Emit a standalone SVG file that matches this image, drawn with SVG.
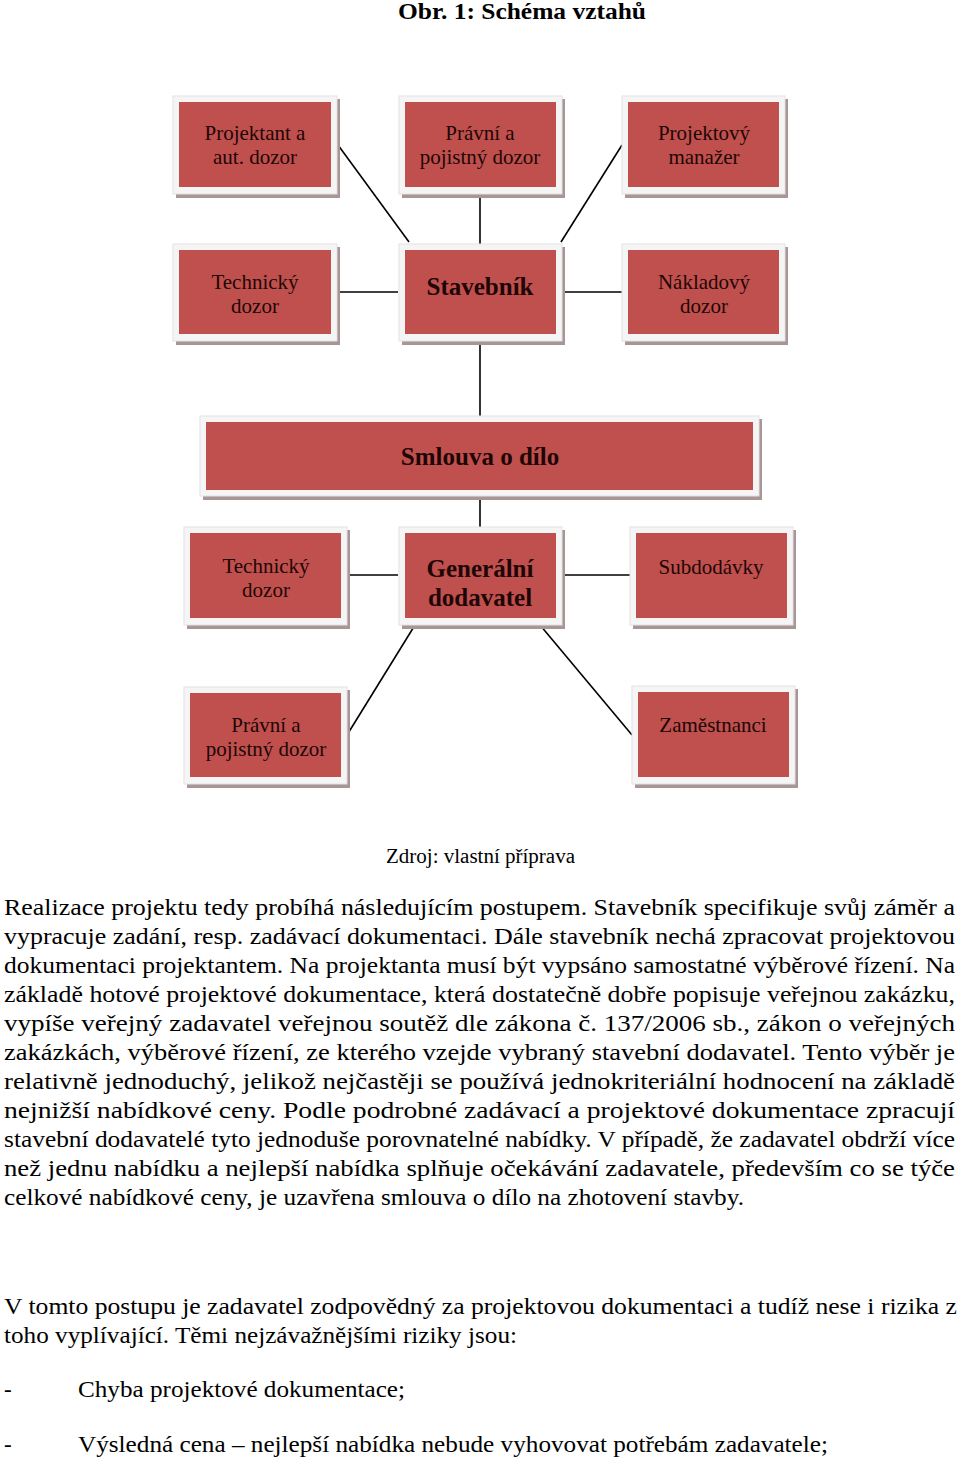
<svg xmlns="http://www.w3.org/2000/svg" width="960" height="1460" viewBox="0 0 960 1460">
<style>
.sh{fill:#a89696}
.fr{fill:#f6f5f5;stroke:#e4e2e2;stroke-width:1}
.rd{fill:#c0504d}
.bt{font-family:"Liberation Serif","Times New Roman",serif;font-size:21px;fill:#1e0606;text-anchor:middle}
.bb{font-family:"Liberation Serif","Times New Roman",serif;font-size:25px;font-weight:bold;fill:#1e0606;text-anchor:middle}
.tx{font-family:"Liberation Serif","Times New Roman",serif;font-size:23px;fill:#000}
.ln{stroke:#000;stroke-width:1.6;fill:none}
</style>
<rect width="960" height="1460" fill="#fff"/>
<text x="522" y="19" font-family="Liberation Serif, serif" font-size="24" font-weight="bold" text-anchor="middle" textLength="248" lengthAdjust="spacingAndGlyphs">Obr. 1: Schéma vztahů</text>

<g id="connectors" class="ln">
<line x1="338" y1="145" x2="409" y2="242"/>
<line x1="480" y1="194" x2="480" y2="244"/>
<line x1="622" y1="145" x2="561" y2="242"/>
<line x1="337" y1="292" x2="398" y2="292"/>
<line x1="562" y1="292" x2="622" y2="292"/>
<line x1="480" y1="341" x2="480" y2="416"/>
<line x1="480" y1="497" x2="480" y2="527"/>
<line x1="347" y1="575" x2="398" y2="575"/>
<line x1="563" y1="575" x2="630" y2="575"/>
<line x1="415" y1="625" x2="347" y2="735"/>
<line x1="540" y1="625" x2="632" y2="735"/>
</g>

<g id="projektant">
<rect class="sh" x="176" y="99" width="164" height="99"/>
<rect class="fr" x="173" y="96" width="164" height="98"/>
<rect class="rd" x="179" y="102" width="152" height="85"/>
<text class="bt" x="255" y="140">Projektant a</text>
<text class="bt" x="255" y="164">aut. dozor</text>
</g>
<g id="pravni-top">
<rect class="sh" x="402" y="99" width="163" height="99"/>
<rect class="fr" x="399" y="96" width="163" height="98"/>
<rect class="rd" x="405" y="102" width="151" height="85"/>
<text class="bt" x="480" y="140">Právní a</text>
<text class="bt" x="480" y="164">pojistný dozor</text>
</g>
<g id="projektovy">
<rect class="sh" x="625" y="99" width="163" height="99"/>
<rect class="fr" x="622" y="96" width="163" height="98"/>
<rect class="rd" x="628" y="102" width="151" height="85"/>
<text class="bt" x="704" y="140">Projektový</text>
<text class="bt" x="704" y="164">manažer</text>
</g>
<g id="technicky-top">
<rect class="sh" x="176" y="247" width="164" height="98"/>
<rect class="fr" x="173" y="244" width="164" height="97"/>
<rect class="rd" x="179" y="250" width="152" height="84"/>
<text class="bt" x="255" y="289">Technický</text>
<text class="bt" x="255" y="313">dozor</text>
</g>
<g id="stavebnik">
<rect class="sh" x="402" y="247" width="163" height="98"/>
<rect class="fr" x="399" y="244" width="163" height="97"/>
<rect class="rd" x="405" y="250" width="151" height="84"/>
<text class="bb" x="480" y="295">Stavebník</text>
</g>
<g id="nakladovy">
<rect class="sh" x="625" y="247" width="163" height="98"/>
<rect class="fr" x="622" y="244" width="163" height="97"/>
<rect class="rd" x="628" y="250" width="151" height="84"/>
<text class="bt" x="704" y="289">Nákladový</text>
<text class="bt" x="704" y="313">dozor</text>
</g>
<g id="smlouva">
<rect class="sh" x="203" y="419" width="559" height="81"/>
<rect class="fr" x="200" y="416" width="559" height="80"/>
<rect class="rd" x="206" y="422" width="547" height="68"/>
<text class="bb" x="480" y="465">Smlouva o dílo</text>
</g>
<g id="technicky-bottom">
<rect class="sh" x="187" y="530" width="163" height="99"/>
<rect class="fr" x="184" y="527" width="163" height="98"/>
<rect class="rd" x="190" y="533" width="151" height="85"/>
<text class="bt" x="266" y="573">Technický</text>
<text class="bt" x="266" y="597">dozor</text>
</g>
<g id="generalni">
<rect class="sh" x="402" y="530" width="163" height="99"/>
<rect class="fr" x="399" y="527" width="163" height="98"/>
<rect class="rd" x="405" y="533" width="151" height="85"/>
<text class="bb" x="480" y="577">Generální</text>
<text class="bb" x="480" y="606">dodavatel</text>
</g>
<g id="subdodavky">
<rect class="sh" x="633" y="530" width="163" height="99"/>
<rect class="fr" x="630" y="527" width="163" height="98"/>
<rect class="rd" x="636" y="533" width="151" height="85"/>
<text class="bt" x="711" y="574">Subdodávky</text>
</g>
<g id="pravni-bottom">
<rect class="sh" x="187" y="690" width="163" height="98"/>
<rect class="fr" x="184" y="687" width="163" height="97"/>
<rect class="rd" x="190" y="693" width="151" height="84"/>
<text class="bt" x="266" y="732">Právní a</text>
<text class="bt" x="266" y="756">pojistný dozor</text>
</g>
<g id="zamestnanci">
<rect class="sh" x="635" y="689" width="163" height="99"/>
<rect class="fr" x="632" y="686" width="163" height="98"/>
<rect class="rd" x="638" y="692" width="151" height="85"/>
<text class="bt" x="713" y="732">Zaměstnanci</text>
</g>

<text x="480.5" y="863" font-family="Liberation Serif, serif" font-size="20" text-anchor="middle" textLength="189" lengthAdjust="spacingAndGlyphs">Zdroj: vlastní příprava</text>

<g class="tx">
<text x="4" y="915" textLength="951" lengthAdjust="spacingAndGlyphs">Realizace projektu tedy probíhá následujícím postupem. Stavebník specifikuje svůj záměr a</text>
<text x="4" y="944" textLength="951" lengthAdjust="spacingAndGlyphs">vypracuje zadání, resp. zadávací dokumentaci. Dále stavebník nechá zpracovat projektovou</text>
<text x="4" y="973" textLength="951" lengthAdjust="spacingAndGlyphs">dokumentaci projektantem. Na projektanta musí být vypsáno samostatné výběrové řízení. Na</text>
<text x="4" y="1002" textLength="951" lengthAdjust="spacingAndGlyphs">základě hotové projektové dokumentace, která dostatečně dobře popisuje veřejnou zakázku,</text>
<text x="4" y="1031" textLength="951" lengthAdjust="spacingAndGlyphs">vypíše veřejný zadavatel veřejnou soutěž dle zákona č. 137/2006 sb., zákon o veřejných</text>
<text x="4" y="1060" textLength="951" lengthAdjust="spacingAndGlyphs">zakázkách, výběrové řízení, ze kterého vzejde vybraný stavební dodavatel. Tento výběr je</text>
<text x="4" y="1089" textLength="951" lengthAdjust="spacingAndGlyphs">relativně jednoduchý, jelikož nejčastěji se používá jednokriteriální hodnocení na základě</text>
<text x="4" y="1118" textLength="951" lengthAdjust="spacingAndGlyphs">nejnižší nabídkové ceny. Podle podrobné zadávací a projektové dokumentace zpracují</text>
<text x="4" y="1147" textLength="951" lengthAdjust="spacingAndGlyphs">stavební dodavatelé tyto jednoduše porovnatelné nabídky. V případě, že zadavatel obdrží více</text>
<text x="4" y="1176" textLength="951" lengthAdjust="spacingAndGlyphs">než jednu nabídku a nejlepší nabídka splňuje očekávání zadavatele, především co se týče</text>
<text x="4" y="1205" textLength="740" lengthAdjust="spacingAndGlyphs">celkové nabídkové ceny, je uzavřena smlouva o dílo na zhotovení stavby.</text>
<text x="4" y="1314" textLength="953" lengthAdjust="spacingAndGlyphs">V tomto postupu je zadavatel zodpovědný za projektovou dokumentaci a tudíž nese i rizika z</text>
<text x="4" y="1343" textLength="513" lengthAdjust="spacingAndGlyphs">toho vyplívající. Těmi nejzávažnějšími riziky jsou:</text>
<text x="4" y="1397">-</text>
<text x="78" y="1397" textLength="327" lengthAdjust="spacingAndGlyphs">Chyba projektové dokumentace;</text>
<text x="4" y="1452">-</text>
<text x="78" y="1452" textLength="750" lengthAdjust="spacingAndGlyphs">Výsledná cena – nejlepší nabídka nebude vyhovovat potřebám zadavatele;</text>
</g>
</svg>
